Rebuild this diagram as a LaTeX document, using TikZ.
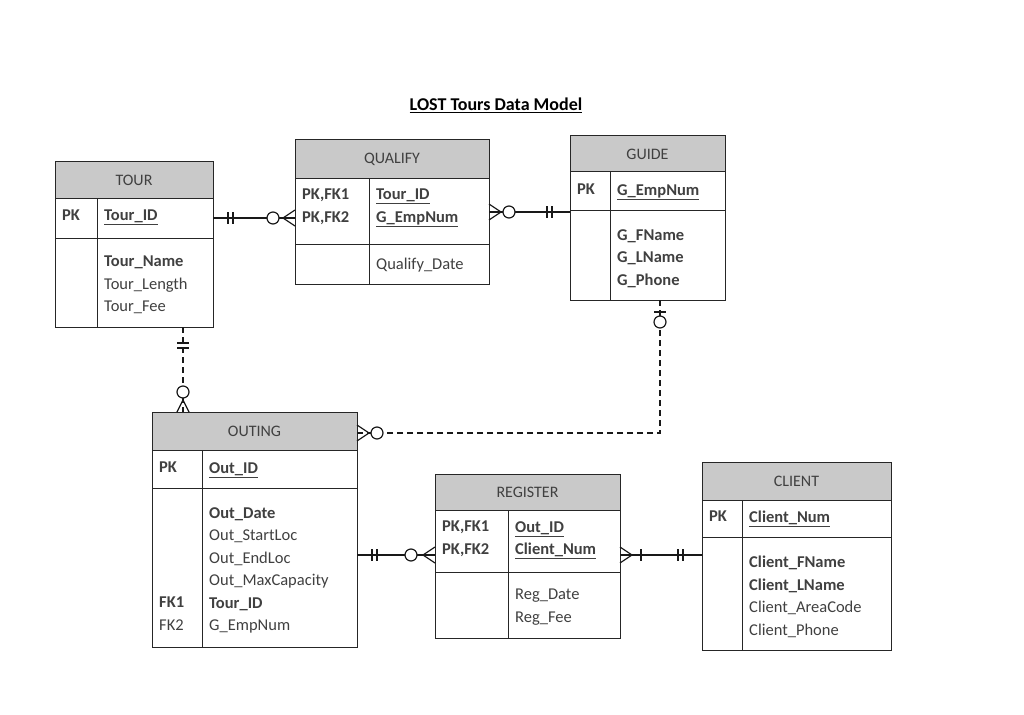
\documentclass[tikz,border=0pt]{standalone}
\usepackage{fontspec}
\setmainfont{Carlito}
\definecolor{hdrgray}{HTML}{C9C9C9}
\definecolor{txtgray}{HTML}{404040}
% entity box: name, left, right, divider, top, header bottom, key bottom, bottom, title
\newcommand{\erbox}[9]{%
  \fill[hdrgray] (#2,#5) rectangle (#3,#6);
  \draw[tbl] (#2,#5) rectangle (#3,#8);
  \draw[tbl] (#2,#6) -- (#3,#6);
  \draw[tbl] (#2,#7) -- (#3,#7);
  \draw[tbl] (#4,#6) -- (#4,#8);
  \node[hdr] (#1) at ({(#2+#3)/2},{(#5+#6)/2}) {#9};
}
\tikzset{
  tbl/.style={line width=1pt, black!85},
  hdr/.style={font=\fontsize{16}{18}\selectfont, text=txtgray},
  fld/.style={anchor=north west, align=left, inner sep=0pt,
    font=\fontsize{16.5}{22.5}\selectfont, text=txtgray},
  rel/.style={line width=1.2pt, black!90},
  reld/.style={rel, dash pattern=on 6pt off 4pt},
}
\begin{document}
\begin{tikzpicture}[x=1pt, y=-1pt]
  \useasboundingbox (0,0) rectangle (1024,714);
  \node[font=\fontsize{18}{20}\selectfont\bfseries] (title) at (496,105) {\underline{LOST Tours Data Model}};

  % entities
  \erbox{tour}{55}{213}{97}{162}{198}{238}{327}{TOUR}
  \erbox{qualify}{295}{489}{369}{140}{178}{244}{284}{QUALIFY}
  \erbox{guide}{570}{725}{610}{136}{172}{210}{300}{GUIDE}
  \erbox{outing}{152}{357}{202}{412}{450}{488}{647}{OUTING}
  \erbox{register}{435}{620}{508}{474}{510}{572}{638}{REGISTER}
  \erbox{client}{702}{891}{742}{462}{500}{537}{650}{CLIENT}

  % fields
  \node[fld] (tourpk) at (62,210) {\textbf{PK}};
  \node[fld] (tourkey) at (104,210) {\textbf{\underline{Tour\_ID}}};
  \node[fld] (tourattr) at (104,256) {\textbf{Tour\_Name}\\Tour\_Length\\Tour\_Fee};
  \node[fld] (qualpk) at (302,189) {\textbf{PK,FK1}\\\textbf{PK,FK2}};
  \node[fld] (qualkey) at (376,189) {\textbf{\underline{Tour\_ID}}\\\textbf{\underline{G\_EmpNum}}};
  \node[fld] (qualattr) at (376,258) {Qualify\_Date};
  \node[fld] (guidepk) at (577,184) {\textbf{PK}};
  \node[fld] (guidekey) at (617,184) {\textbf{\underline{G\_EmpNum}}};
  \node[fld] (guideattr) at (617,229) {\textbf{G\_FName}\\\textbf{G\_LName}\\\textbf{G\_Phone}};
  \node[fld] (outpk) at (159,462) {\textbf{PK}};
  \node[fld] (outkey) at (209,462) {\textbf{\underline{Out\_ID}}};
  \node[fld] (outattr) at (209,507) {\textbf{Out\_Date}\\Out\_StartLoc\\Out\_EndLoc\\Out\_MaxCapacity\\\textbf{Tour\_ID}\\G\_EmpNum};
  \node[fld] (outfk) at (159,597) {\textbf{FK1}\\FK2};
  \node[fld] (regpk) at (442,521) {\textbf{PK,FK1}\\\textbf{PK,FK2}};
  \node[fld] (regkey) at (515,521) {\textbf{\underline{Out\_ID}}\\\textbf{\underline{Client\_Num}}};
  \node[fld] (regattr) at (515,589) {Reg\_Date\\Reg\_Fee};
  \node[fld] (clientpk) at (709,511) {\textbf{PK}};
  \node[fld] (clientkey) at (749,511) {\textbf{\underline{Client\_Num}}};
  \node[fld] (clientattr) at (749,556) {\textbf{Client\_FName}\\\textbf{Client\_LName}\\Client\_AreaCode\\Client\_Phone};

  % connector end points
  \coordinate (t1) at (213,218);  \coordinate (q1) at (295,218);
  \coordinate (q2) at (489,212);  \coordinate (g1) at (570,212);
  \coordinate (t2) at (183,327);  \coordinate (o1) at (183,412);
  \coordinate (g2) at (660,300);  \coordinate (gc) at (660,433);
  \coordinate (o2) at (357,433);
  \coordinate (o3) at (357,555);  \coordinate (r1) at (435,555);
  \coordinate (r2) at (620,555);  \coordinate (c1) at (702,555);

  % TOUR -- QUALIFY
  \draw[rel] (t1) -- (q1);
  \draw[rel] (228,212) -- (228,224) (233,212) -- (233,224);
  \draw[rel, fill=white] (273,218) circle (6);
  \draw[rel] (q1 |- 0,210) -- (283,218) -- (q1 |- 0,226);
  % QUALIFY -- GUIDE
  \draw[rel] (q2) -- (g1);
  \draw[rel] (q2 |- 0,204) -- (501,212) -- (q2 |- 0,220);
  \draw[rel, fill=white] (509,212) circle (6);
  \draw[rel] (547,206) -- (547,218) (552,206) -- (552,218);
  % TOUR -- OUTING
  \draw[reld] (t2) -- (o1);
  \draw[rel] (177,343) -- (189,343) (177,348) -- (189,348);
  \draw[rel, fill=white] (183,392) circle (6);
  \draw[rel] (177,412) -- (183,400) -- (189,412);
  % GUIDE -- OUTING
  \draw[reld] (g2) -- (gc) -- (o2);
  \draw[rel] (654,312) -- (666,312);
  \draw[rel, fill=white] (660,322) circle (6);
  \draw[rel] (o2 |- 0,425) -- (369,433) -- (o2 |- 0,441);
  \draw[rel, fill=white] (377,433) circle (6);
  % OUTING -- REGISTER
  \draw[rel] (o3) -- (r1);
  \draw[rel] (372,549) -- (372,561) (377,549) -- (377,561);
  \draw[rel, fill=white] (411,555) circle (6);
  \draw[rel] (r1 |- 0,547) -- (423,555) -- (r1 |- 0,563);
  % REGISTER -- CLIENT
  \draw[rel] (r2) -- (c1);
  \draw[rel] (r2 |- 0,547) -- (632,555) -- (r2 |- 0,563);
  \draw[rel] (641,549) -- (641,561);
  \draw[rel] (678,549) -- (678,561) (683,549) -- (683,561);
\end{tikzpicture}
\end{document}
